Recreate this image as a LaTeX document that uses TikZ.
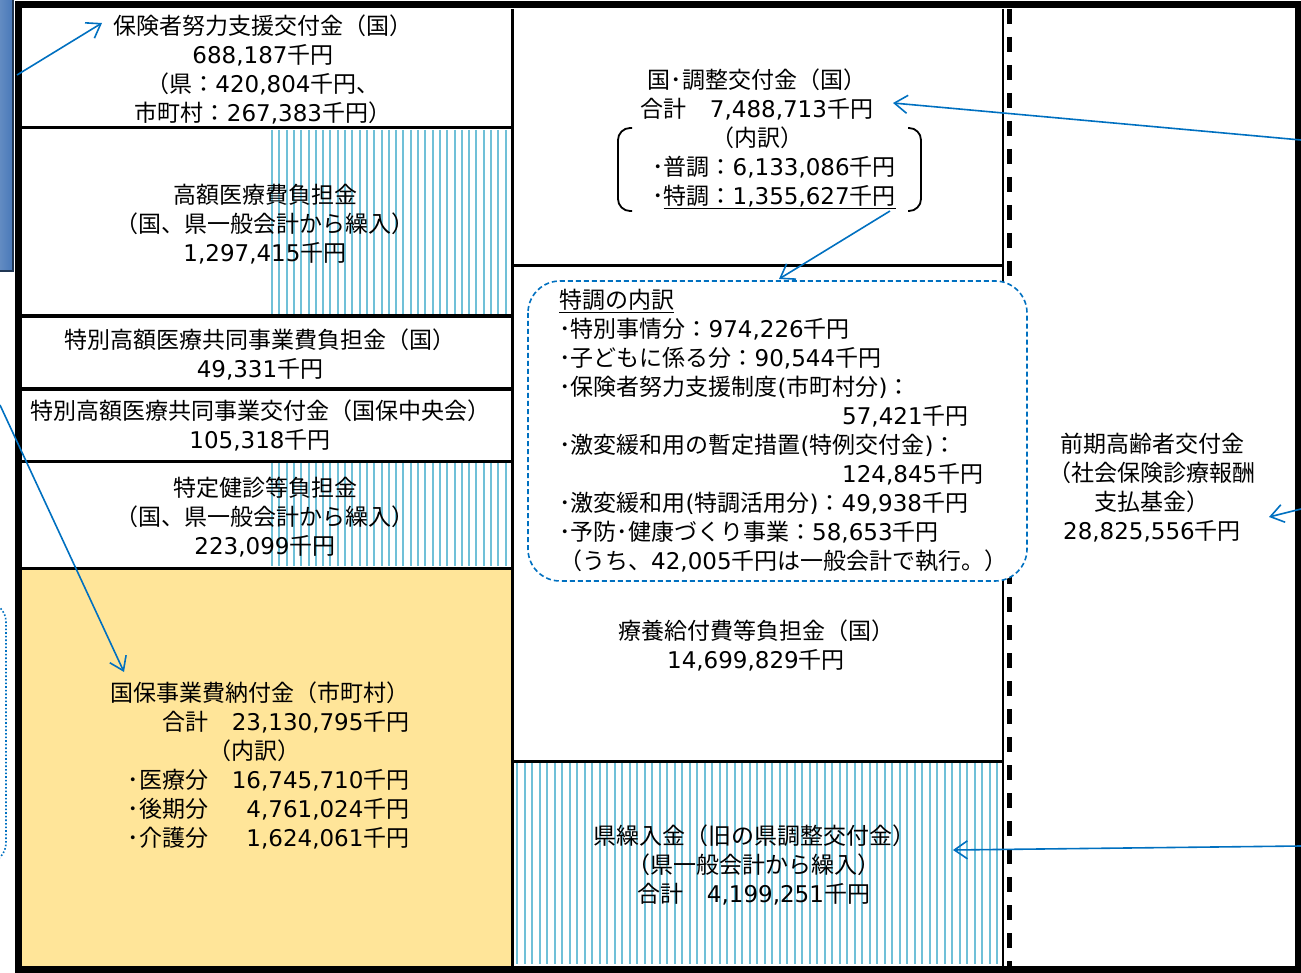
\documentclass[tikz,border=0pt]{standalone}
\usepackage{fontspec}
\newfontfamily\jp{Noto Sans CJK JP}
\newfontfamily\dv{DejaVu Sans}
\newcommand{\amt}[1]{{\dv #1}}
\usetikzlibrary{arrows.meta}
\definecolor{hatchblue}{RGB}{112,192,216}
\definecolor{arrowblue}{RGB}{0,112,192}
\definecolor{noufu}{RGB}{255,229,153}
\definecolor{barblue}{RGB}{72,120,184}
\tikzset{
	txt/.style={font=\jp\fontsize{23}{29}\selectfont, align=center, inner sep=0pt},
	cell/.style={line width=3pt},
	hatch/.style={draw=hatchblue, line width=2pt},
	link/.style={arrowblue, line width=1.6pt, -{Straight Barb[length=13pt,width=18pt]}},
}
\begin{document}
\begin{tikzpicture}[x=1pt, y=-1pt]
	\useasboundingbox (0,0) rectangle (1301,973);
	% shapes cut off at the left edge
	\shade[left color=barblue!75!white, right color=barblue] (-10,0) rectangle (13,271);
	\draw[barblue!45!black, line width=2pt] (13,0) -- (13,271) -- (-10,271);
	\draw[arrowblue, dotted, line width=1.6pt, rounded corners=20pt] (-30,602) -- (6,602) -- (6,863) -- (-30,863);
	% fills
	\fill[noufu] (22,568) rectangle (511,966);
	\foreach \hx in {272,279.3,...,509} {
		\draw[hatch] (\hx,130) -- (\hx,314);
		\draw[hatch] (\hx,463) -- (\hx,566);
	}
	\foreach \hx in {517,524.5,...,1001}
		\draw[hatch] (\hx,763) -- (\hx,964);
	% cells
	\draw[cell] (22,128) -- (512,128);
	\draw[line width=4.5pt] (22,316) -- (512,316);
	\draw[line width=4pt] (22,389) -- (512,389);
	\draw[cell] (22,461) -- (512,461);
	\draw[cell] (22,568) -- (512,568);
	\draw[cell] (512,266) -- (1003,266);
	\draw[cell] (512,761) -- (1003,761);
	\draw[cell] (512,9) -- (512,966);
	\draw[line width=2.5pt] (1003,9) -- (1003,966);
	\draw[line width=5pt, dash pattern=on 15pt off 13pt] (1009,9) -- (1009,966);
	\draw[line width=7pt] (18,5) -- (1298,5) -- (1298,969) -- (18,969) -- cycle;
	% dashed frame
	\draw[arrowblue, fill=white, line width=1.6pt, dash pattern=on 5pt off 3pt, rounded corners=32pt] (528,281) rectangle (1027,581);
	% brackets
	\draw[line width=1.8pt, rounded corners=12pt] (632,128) -- (618,128) -- (618,211) -- (632,211);
	\draw[line width=1.8pt, rounded corners=12pt] (908,128) -- (921,128) -- (921,211) -- (908,211);

	% texts
	\node[txt] (hoken) at (263,69) {保険者努力支援交付金（国）\\\amt{688,187}千円\\（県：\amt{420,804}千円、\\市町村：\amt{267,383}千円）};
	\node[txt] (kogaku) at (265,224) {高額医療費負担金\\（国、県一般会計から繰入）\\\amt{1,297,415}千円};
	\node[txt] (tokufutan) at (260,354) {特別高額医療共同事業費負担金（国）\\\amt{49,331}千円};
	\node[txt] (tokukofu) at (260,425) {特別高額医療共同事業交付金（国保中央会）\\\amt{105,318}千円};
	\node[txt] (tokutei) at (265,517) {特定健診等負担金\\（国、県一般会計から繰入）\\\amt{223,099}千円};
	\node[txt] (nofu) at (260,768) {\begin{tabular}{@{}l@{}r@{}}
		\multicolumn{2}{@{}c@{}}{国保事業費納付金（市町村）}\\
		\multicolumn{2}{@{}r@{}}{合計　\amt{23,130,795}千円}\\
		\multicolumn{2}{@{}c@{}}{（内訳）\hspace*{12pt}}\\
		\hspace*{17pt}･医療分 & \amt{16,745,710}千円\\
		\hspace*{17pt}･後期分 & \amt{4,761,024}千円\\
		\hspace*{17pt}･介護分 & \amt{1,624,061}千円
	\end{tabular}};
	\node[txt] (chosei) at (757,139) {国･調整交付金（国）\\合計　\amt{7,488,713}千円\hspace*{20pt}\\（内訳）\\\hspace*{34pt}･普調：\amt{6,133,086}千円\\\hspace*{34pt}･\underline{特調：\amt{1,355,627}千円}};
	\node[txt, align=left, anchor=west] (tokucho) at (559,431) {\underline{特調の内訳}\\
		･特別事情分：\amt{974,226}千円\\
		･子どもに係る分：\amt{90,544}千円\\
		･保険者努力支援制度\amt{(}市町村分\amt{)}：\\
		\hspace*{283pt}\amt{57,421}千円\\
		･激変緩和用の暫定措置\amt{(}特例交付金\amt{)}：\\
		\hspace*{283pt}\amt{124,845}千円\\
		･激変緩和用\amt{(}特調活用分\amt{)}：\amt{49,938}千円\\
		･予防･健康づくり事業：\amt{58,653}千円\\
		（うち、\amt{42,005}千円は一般会計で執行。）};
	\node[txt] (ryoyo) at (756,645) {療養給付費等負担金（国）\\\amt{14,699,829}千円};
	\node[txt] (kenkuri) at (754,865) {県繰入金（旧の県調整交付金）\\（県一般会計から繰入）\\合計　\amt{4,199,251}千円};
	\node[txt] (zenki) at (1152,488) {前期高齢者交付金\\（社会保険診療報酬\\支払基金）\\\amt{28,825,556}千円};

	% arrows
	\coordinate (barEdge) at (17,75);
	\coordinate (hokenTip) at (102,23);
	\coordinate (leftEdge) at (0,405);
	\coordinate (nofuTip) at (124,672);
	\coordinate (rightTop) at (1301,140);
	\coordinate (choseiTip) at (893,103);
	\coordinate (tokuchoFrom) at (890,211);
	\coordinate (tokuchoTip) at (779,279);
	\coordinate (rightMid) at (1301,509);
	\coordinate (zenkiTip) at (1269,517);
	\coordinate (rightLow) at (1301,846);
	\coordinate (kenkuriTip) at (953,850);
	\draw[link] (barEdge) -- (hokenTip);
	\draw[link] (leftEdge) -- (nofuTip);
	\draw[link] (rightTop) -- (choseiTip);
	\draw[link] (tokuchoFrom) -- (tokuchoTip);
	\draw[link] (rightMid) -- (zenkiTip);
	\draw[link] (rightLow) -- (kenkuriTip);
\end{tikzpicture}
\end{document}
